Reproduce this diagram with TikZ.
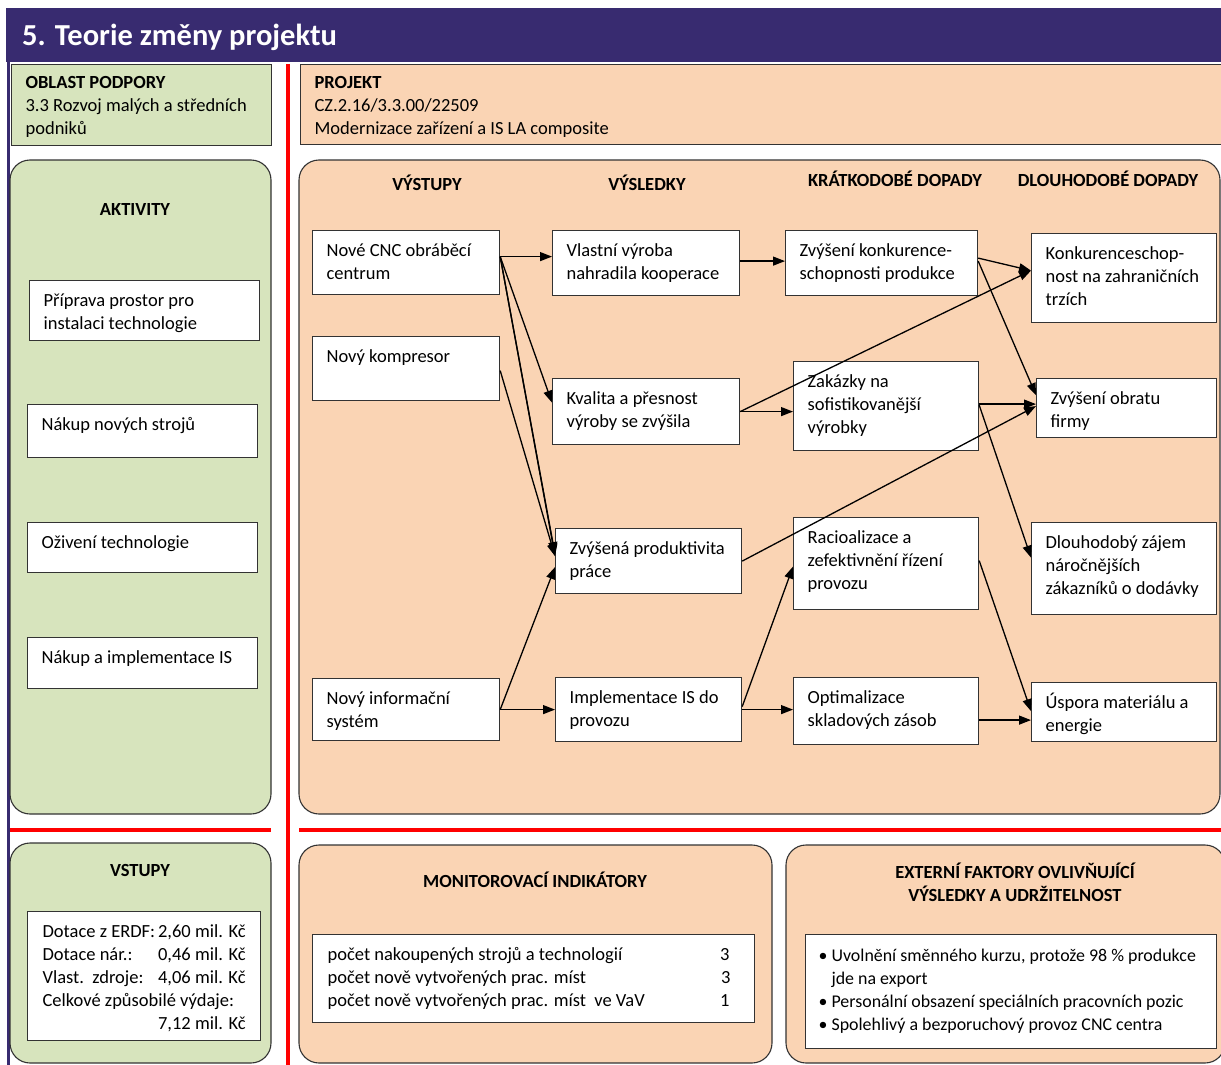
\documentclass[tikz,border=0pt]{standalone}
\usepackage{fontspec}
\setmainfont{Carlito}
\usetikzlibrary{arrows.meta}

\definecolor{titlepurple}{RGB}{56,43,112}
\definecolor{areagreen}{RGB}{215,228,189}
\definecolor{areapeach}{RGB}{250,212,180}

% text block of fixed size, top aligned
\newcommand{\boxtext}[3]{\parbox[t][#2pt][t]{#1pt}{\raggedright\strut #3}}

\begin{document}
\begin{tikzpicture}[
  x=1pt, y=-1pt,
  font=\fontsize{18.5}{23}\selectfont,
  box/.style={draw=black!80, line width=1.2pt, fill=white, anchor=north west,
    inner xsep=14pt, inner ysep=10pt},
  area/.style={draw=black!80, line width=1.1pt, rounded corners=20pt},
  head/.style={font=\fontsize{18.5}{23}\selectfont\bfseries, inner sep=0pt},
  arr/.style={line width=1.3pt, -{Triangle[length=12pt,width=9pt]}},
  sep/.style={red, line width=3.5pt}
]
  \useasboundingbox (0,0) rectangle (1221,1065);

  % title bar and separators
  \fill[titlepurple] (6,8) rectangle (1225,62);
  \node[anchor=base west, inner sep=0pt, text=white,
    font=\fontsize{30.5}{33}\selectfont\bfseries] (title) at (22,46) {5. Teorie změny projektu};
  \draw[titlepurple, line width=3pt] (8,62) -- (8,1065);
  \draw[sep] (288,64) -- (288,1065);
  \draw[sep] (10,830) -- (271,830);
  \draw[sep] (299,830) -- (1225,830);

  % oblast podpory a projekt
  \node[box, fill=areagreen, inner ysep=8pt] (oblast) at (11,64)
    {\boxtext{232}{65}{\textbf{OBLAST PODPORY}\\3.3 Rozvoj malých a středních\\podniků}};
  \node[box, fill=areapeach, inner ysep=8pt] (projekt) at (300,64)
    {\boxtext{897}{64}{\textbf{PROJEKT}\\CZ.2.16/3.3.00/22509\\Modernizace zařízení a IS LA composite}};

  % aktivity
  \draw[area, fill=areagreen] (10,160) rectangle (271,814);
  \node[head] (aktivity) at (135,210) {AKTIVITY};
  \node[box] (act1) at (29,280) {\boxtext{202}{40}{Příprava prostor pro\\instalaci technologie}};
  \node[box] (act2) at (27,404) {\boxtext{202}{33}{Nákup nových strojů}};
  \node[box] (act3) at (27,522) {\boxtext{202}{30}{Oživení technologie}};
  \node[box] (act4) at (27,637) {\boxtext{202}{31}{Nákup a implementace IS}};

  % vstupy
  \draw[area, fill=areagreen] (10,843) rectangle (271,1063);
  \node[head] (vstupy) at (140,870) {VSTUPY};
  \node[box, inner xsep=15pt] (vstbox) at (27,911)
    {\boxtext{203}{109}{Dotace z ERDF:\hfill 2,60 mil. Kč\\
      Dotace nár.:\hfill 0,46 mil. Kč\\
      Vlast.\ \ zdroje:\hfill 4,06 mil. Kč\\
      Celkové způsobilé výdaje:\\
      \hfill 7,12 mil. Kč}};

  % teorie zmeny
  \draw[area, fill=areapeach] (299,160) rectangle (1220,814);
  \node[head] (vystupy) at (427,183) {VÝSTUPY};
  \node[head] (vysledky) at (647,183) {VÝSLEDKY};
  \node[head] (kratke) at (895,179) {KRÁTKODOBÉ DOPADY};
  \node[head] (dlouhe) at (1108,179) {DLOUHODOBÉ DOPADY};

  \node[box] (cnc) at (312,230) {\boxtext{159}{44}{Nové CNC obráběcí\\centrum}};
  \node[box] (komp) at (312,336) {\boxtext{159}{44}{Nový kompresor}};
  \node[box] (info) at (312,678) {\boxtext{159}{42}{Nový informační\\systém}};

  \node[box] (vlast) at (552,230) {\boxtext{159}{45}{Vlastní výroba\\nahradila kooperace}};
  \node[box] (kval) at (552,378) {\boxtext{159}{46}{Kvalita a přesnost\\výroby se zvýšila}};
  \node[box] (prod) at (555,528) {\boxtext{158}{45}{Zvýšená produktivita\\práce}};
  \node[box] (impl) at (555,677) {\boxtext{158}{44}{Implementace IS do\\provozu}};

  \node[box] (konk) at (785,230) {\boxtext{164}{45}{Zvýšení konkurence-\\schopnosti produkce}};
  \node[box] (zak) at (793,361) {\boxtext{157}{69}{Zakázky na\\sofistikovanější\\výrobky}};
  \node[box] (rac) at (793,517) {\boxtext{157}{72}{Racioalizace a\\zefektivnění řízení\\provozu}};
  \node[box] (opt) at (793,677) {\boxtext{157}{47}{Optimalizace\\skladových zásob}};

  \node[box] (konkz) at (1031,233) {\boxtext{157}{69}{Konkurenceschop-\\nost na zahraničních\\trzích}};
  \node[box] (obrat) at (1036,378) {\boxtext{152}{39}{Zvýšení obratu\\firmy}};
  \node[box] (zajem) at (1031,522) {\boxtext{157}{72}{Dlouhodobý zájem\\náročnějších\\zákazníků o dodávky}};
  \node[box] (uspora) at (1031,682) {\boxtext{157}{39}{Úspora materiálu a\\energie}};

  % vazby
  \draw[arr] ([yshift=6pt]cnc.east) -- ([yshift=6pt]cnc.east -| vlast.west);
  \draw[arr] ([yshift=6pt]cnc.east) -- ([yshift=9pt]kval.west);
  \draw[arr] ([yshift=6pt]cnc.east) -- ([yshift=7pt]prod.west);
  \draw[arr] ([yshift=6pt]cnc.east) -- ([yshift=5pt]prod.west);
  \draw[arr] ([yshift=-2pt]komp.east) -- ([yshift=5pt]prod.west);
  \draw[arr] (info.east) -- ([yshift=-6pt]prod.west);
  \draw[arr] (info.east) -- (info.east -| impl.west);

  \draw[arr] ([yshift=2pt]vlast.east) -- ([yshift=2pt]vlast.east -| konk.west);
  \draw[arr] (kval.east) -- (kval.east -| zak.west);
  \draw[arr] (kval.east) -- ([yshift=7.5pt]konkz.west);
  \draw[arr] (prod.east) -- ([yshift=2pt]obrat.west);
  \draw[arr] ([yshift=3pt]impl.east) -- ([yshift=-3pt]rac.west);
  \draw[arr] (impl.east) -- (impl.east -| opt.west);

  \draw[arr] ([yshift=5pt]konk.east) -- ([yshift=7.5pt]konkz.west);
  \draw[arr] ([yshift=2pt]konk.east) -- ([yshift=13pt]obrat.west);
  \draw[arr] ([yshift=2pt]zak.east) -- ([yshift=2pt]zak.east -| obrat.west);
  \draw[arr] ([yshift=1pt]zak.east) -- ([yshift=11pt]zajem.west);
  \draw[arr] ([yshift=3pt]rac.east) -- ([yshift=1pt]uspora.west);
  \draw[arr] ([yshift=-9pt]opt.east) -- ([yshift=-9pt]opt.east -| uspora.west);

  % monitorovaci indikatory
  \draw[area, fill=areapeach] (299,845) rectangle (772,1063);
  \node[head] (monitor) at (535,880) {MONITOROVACÍ INDIKÁTORY};
  \node[box, inner xsep=15pt] (monbox) at (312,934)
    {\boxtext{412}{68}{počet nakoupených strojů a technologií\hfill 3\kern10pt\\
      počet nově vytvořených prac. míst\hfill 3\kern9pt\\
      počet nově vytvořených prac. míst\ \ ve VaV\hfill 1\kern10pt}};

  % externi faktory
  \draw[area, fill=areapeach] (786,845) rectangle (1225,1063);
  \node[head, align=center] (externi) at (1015,882) {EXTERNÍ FAKTORY OVLIVŇUJÍCÍ\\VÝSLEDKY A UDRŽITELNOST};
  \node[box, inner xsep=13pt, inner ysep=11pt, font=\fontsize{17.9}{23}\selectfont] (extbox) at (805,934)
    {\boxtext{385}{92}{\mbox{\textbullet\ Uvolnění směnného kurzu, protože 98~\% produkce}\\
      \phantom{\textbullet\ }jde na export\\
      \mbox{\textbullet\ Personální obsazení speciálních pracovních pozic}\\
      \mbox{\textbullet\ Spolehlivý a bezporuchový provoz CNC centra}}};
\end{tikzpicture}
\end{document}
